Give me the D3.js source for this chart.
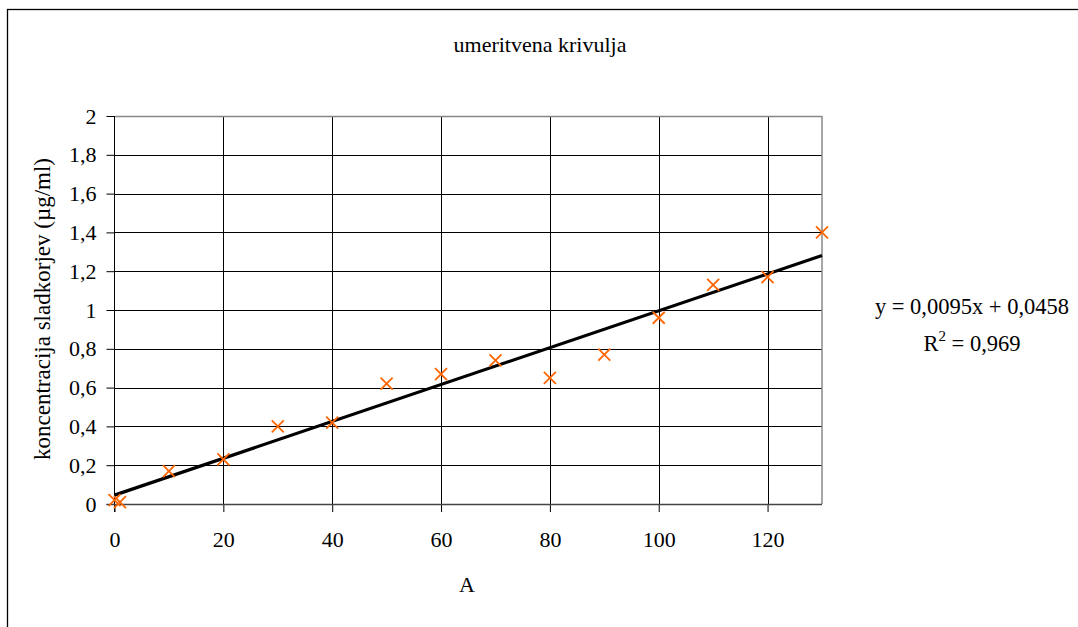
<!DOCTYPE html>
<html><head><meta charset="utf-8">
<script src="https://cdn.jsdelivr.net/npm/d3@7"></script>
<style>body{margin:0;background:#fff;}</style>
</head><body>
<svg id="c" width="1078" height="627"></svg>
<script>
const xValues = [0, 1, 10, 20, 30, 40, 50, 60, 70, 80, 90, 100, 110, 120, 130];
const yValues = [0.02, 0.01, 0.17, 0.23, 0.40, 0.42, 0.62, 0.67, 0.74, 0.65, 0.77, 0.96, 1.13, 1.17, 1.40];
const xTicks = [0, 20, 40, 60, 80, 100, 120];
const yTicks = [0, 0.2, 0.4, 0.6, 0.8, 1, 1.2, 1.4, 1.6, 1.8, 2];
const slope = 0.0095, intercept = 0.0458;
const title = "umeritvena krivulja";
const xLabel = "A";
const yLabel = "koncentracija sladkorjev (µg/ml)";
const eqText = "y = 0,0095x + 0,0458";
const r2Value = "0,969";

const FF = "Liberation Serif";
const svg = d3.select("#c");
const L = 114.5, R = 822, T = 116, B = 504;
const x = d3.scaleLinear().domain([0, 130]).range([L, R]);
const y = d3.scaleLinear().domain([0, 2]).range([B, T]);
const fmt = d => String(d).replace(".", ",");

// outer border
svg.append("rect").attr("x", 7.5).attr("y", 9.5).attr("width", 1100).attr("height", 700)
  .attr("fill", "none").attr("stroke", "#000").attr("stroke-width", 1.3);

// title
svg.append("text").attr("x", 540).attr("y", 52).attr("text-anchor", "middle")
  .attr("font-family", FF).attr("font-size", 22).text(title);

// gridlines
const g = svg.append("g");
g.selectAll(".hg").data(yTicks.filter(d => d > 0 && d < 2)).join("line")
  .attr("x1", L).attr("x2", R).attr("y1", d => Math.round(y(d)) + 0.5).attr("y2", d => Math.round(y(d)) + 0.5)
  .attr("stroke", "#000").attr("stroke-width", 1);
g.selectAll(".vg").data(xTicks.filter(d => d > 0)).join("line")
  .attr("y1", T).attr("y2", B).attr("x1", d => Math.round(x(d)) + 0.5).attr("x2", d => Math.round(x(d)) + 0.5)
  .attr("stroke", "#000").attr("stroke-width", 1);

// plot border (grey top/right)
svg.append("line").attr("x1", L).attr("x2", R).attr("y1", T + 0.5).attr("y2", T + 0.5).attr("stroke", "#888").attr("stroke-width", 1.5);
svg.append("line").attr("x1", R).attr("x2", R).attr("y1", T).attr("y2", B).attr("stroke", "#888").attr("stroke-width", 1.5);

// axes
const yAxis = d3.axisLeft(y).tickValues(yTicks).tickFormat(fmt).tickSize(8).tickPadding(10);
const ya = svg.append("g").attr("transform", `translate(${L},0)`).call(yAxis);
const xAxis = d3.axisBottom(x).tickValues(xTicks).tickFormat(fmt).tickSize(8).tickPadding(19);
const xa = svg.append("g").attr("transform", `translate(0,${B})`).call(xAxis);
[ya, xa].forEach(a => {
  a.attr("font-family", null).attr("font-size", null);
  a.select(".domain").remove();
  a.selectAll("line").attr("stroke", "#000");
  a.selectAll("text").attr("fill", "#000").attr("font-family", FF).attr("font-size", 22);
});
svg.append("line").attr("x1", L).attr("x2", L).attr("y1", T).attr("y2", B + 8).attr("stroke", "#000");
svg.append("line").attr("x1", L - 8).attr("x2", R).attr("y1", B + 0.5).attr("y2", B + 0.5).attr("stroke", "#444").attr("stroke-width", 1.3);

// trend line
svg.append("line").attr("x1", x(0)).attr("y1", y(intercept)).attr("x2", x(130)).attr("y2", y(intercept + slope * 130))
  .attr("stroke", "#000").attr("stroke-width", 3.2);

// markers
const s = 6;
const pts = svg.append("g").selectAll("g").data(xValues.map((d, i) => [d, yValues[i]])).join("g")
  .attr("transform", d => `translate(${x(d[0])},${y(d[1])})`);
pts.append("path").attr("d", `M${-s},${-s}L${s},${s}M${-s},${s}L${s},${-s}`)
  .attr("stroke", "#FF6600").attr("stroke-width", 1.8).attr("fill", "none");

// axis labels
svg.append("text").attr("x", 467).attr("y", 592).attr("text-anchor", "middle")
  .attr("font-family", FF).attr("font-size", 22).text(xLabel);
svg.append("text").attr("transform", "translate(50,309) rotate(-90)").attr("text-anchor", "middle")
  .attr("font-family", FF).attr("font-size", 23).text(yLabel);

// equation
svg.append("text").attr("x", 972).attr("y", 314).attr("text-anchor", "middle")
  .attr("font-family", FF).attr("font-size", 22.5).text(eqText);
const r2 = svg.append("text").attr("x", 972).attr("y", 351).attr("text-anchor", "middle")
  .attr("font-family", FF).attr("font-size", 22.5);
r2.append("tspan").text("R");
r2.append("tspan").attr("dy", -10).attr("font-size", 15).text("2");
r2.append("tspan").attr("dy", 10).text(" = " + r2Value);
</script>
</body></html>
